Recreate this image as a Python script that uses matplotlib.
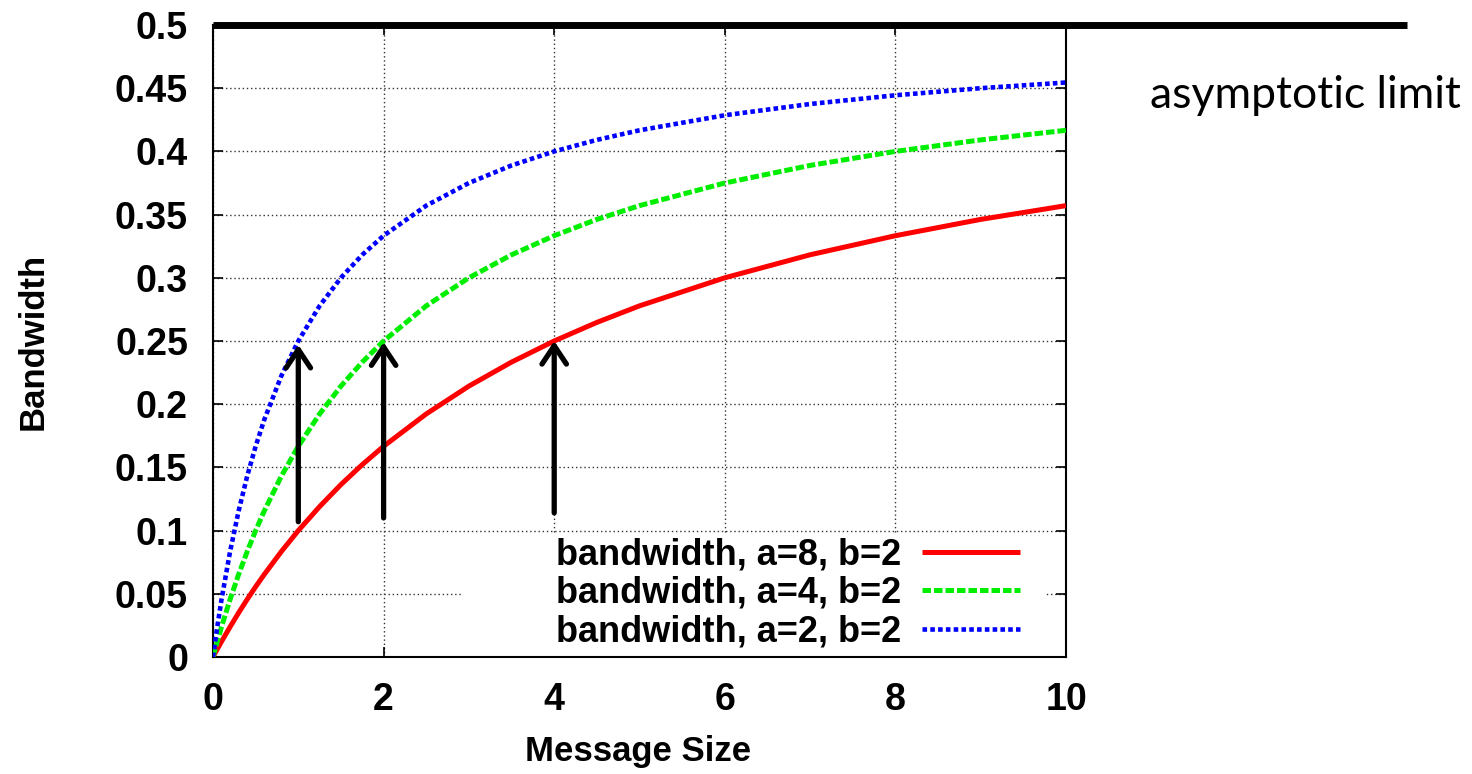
import matplotlib
matplotlib.use("Agg")
import matplotlib.pyplot as plt
from matplotlib.patches import Rectangle

# message size samples and bandwidth
size = [0, 0.05, 0.1, 0.2, 0.3, 0.4, 0.5, 0.6, 0.8, 1, 1.25, 1.5, 1.75, 2,
        2.5, 3, 3.5, 4, 4.5, 5, 6, 7, 8, 9, 10]
bw_a8 = [0, 0.0062, 0.0122, 0.0238, 0.0349, 0.0455, 0.0556, 0.0652, 0.0833, 0.1,
         0.1190, 0.1364, 0.1522, 0.1667, 0.1923, 0.2143, 0.2333, 0.25, 0.2647,
         0.2778, 0.3, 0.3182, 0.3333, 0.3462, 0.3571]
bw_a4 = [0, 0.0122, 0.0238, 0.0455, 0.0652, 0.0833, 0.1, 0.1154, 0.1429, 0.1667,
         0.1923, 0.2143, 0.2333, 0.25, 0.2778, 0.3, 0.3182, 0.3333, 0.3462,
         0.3571, 0.375, 0.3889, 0.4, 0.4091, 0.4167]
bw_a2 = [0, 0.0238, 0.0455, 0.0833, 0.1154, 0.1429, 0.1667, 0.1875, 0.2222, 0.25,
         0.2778, 0.3, 0.3182, 0.3333, 0.3571, 0.375, 0.3889, 0.4, 0.4091,
         0.4167, 0.4286, 0.4375, 0.4444, 0.45, 0.4545]
labels = ["bandwidth, a=8, b=2", "bandwidth, a=4, b=2", "bandwidth, a=2, b=2"]

# asymptote line, runs past the right edge of the plot
limit_x = [0, 14]
limit_y = [0.5, 0.5]

# arrows: x, start y, tip y
arrow_x = [1, 2, 4]
arrow_y0 = [0.107, 0.110, 0.114]
arrow_y1 = [0.247, 0.249, 0.250]

xticks = [0, 2, 4, 6, 8, 10]
yticks = [0, 0.05, 0.1, 0.15, 0.2, 0.25, 0.3, 0.35, 0.4, 0.45, 0.5]
ytick_labels = ["0", "0.05", "0.1", "0.15", "0.2", "0.25", "0.3", "0.35",
                "0.4", "0.45", "0.5"]

plt.rcParams['font.family'] = ['Liberation Sans', 'DejaVu Sans']

fig = plt.figure(figsize=(14.72, 7.74), dpi=100)
ax = fig.add_axes([0.1447, 0.1512, 0.5795, 0.8165])
ax.set_xlim(0, 10)
ax.set_ylim(0, 0.5)

ax.grid(True, linestyle=(0, (1, 2)), color='#333333', linewidth=1, zorder=0)
ax.set_axisbelow(True)

# opaque key area hides grid behind it
ax.add_patch(Rectangle((0.292, 0.0), 0.685, 0.193, transform=ax.transAxes,
                       facecolor='white', edgecolor='none', zorder=1))

l1, = ax.plot(size, bw_a8, color='#ff0000', lw=3.6, solid_capstyle='butt', zorder=3)
l2, = ax.plot(size, bw_a4, color='#00ee00', lw=3.6, dashes=(1.7, 0.6), zorder=3)
l3, = ax.plot(size, bw_a2, color='#0000ff', lw=3.3, dashes=(1.0, 0.7), zorder=3)

ax.plot(limit_x, limit_y, color='black', lw=5, clip_on=False, zorder=5,
        solid_capstyle='butt')

for x, y0, y1 in zip(arrow_x, arrow_y0, arrow_y1):
    ax.annotate("", xy=(x, y1), xytext=(x, y0),
                arrowprops=dict(arrowstyle="->,head_length=0.6,head_width=0.4",
                                lw=3.8, color='black', mutation_scale=22,
                                shrinkA=0, shrinkB=0), zorder=4)

ax.set_xticks(xticks)
ax.set_xticklabels([str(t) for t in xticks])
ax.set_yticks(yticks)
ax.set_yticklabels(ytick_labels)
ax.tick_params(axis='both', direction='in', length=7, width=1.2,
               top=True, right=True, labelsize=27)
ax.tick_params(axis='x', pad=18)
ax.tick_params(axis='y', pad=18)
for lab in ax.get_xticklabels() + ax.get_yticklabels():
    lab.set_fontweight('bold')

for sp in ax.spines.values():
    sp.set_linewidth(1.5)
    sp.set_color('black')

ax.set_xlabel("Message Size", fontsize=25, fontweight='bold')
ax.xaxis.set_label_coords(0.498, -0.123)
ax.set_ylabel("Bandwidth", fontsize=25, fontweight='bold')
ax.yaxis.set_label_coords(-0.191, 0.50)

leg = ax.legend([l1, l2, l3], labels, loc='lower right',
                bbox_to_anchor=(0.946, 0.012), frameon=False, markerfirst=False,
                fontsize=26, handlelength=2.7, handletextpad=0.6,
                labelspacing=0.1, borderpad=0, borderaxespad=0)
for t in leg.get_texts():
    t.set_fontweight('bold')

fig.text(0.781, (774 - 108) / 774, "asymptotic limit", fontsize=32,
         family=['Lato', 'DejaVu Sans'], va='baseline', ha='left')

fig.savefig("out.png", dpi=100)
